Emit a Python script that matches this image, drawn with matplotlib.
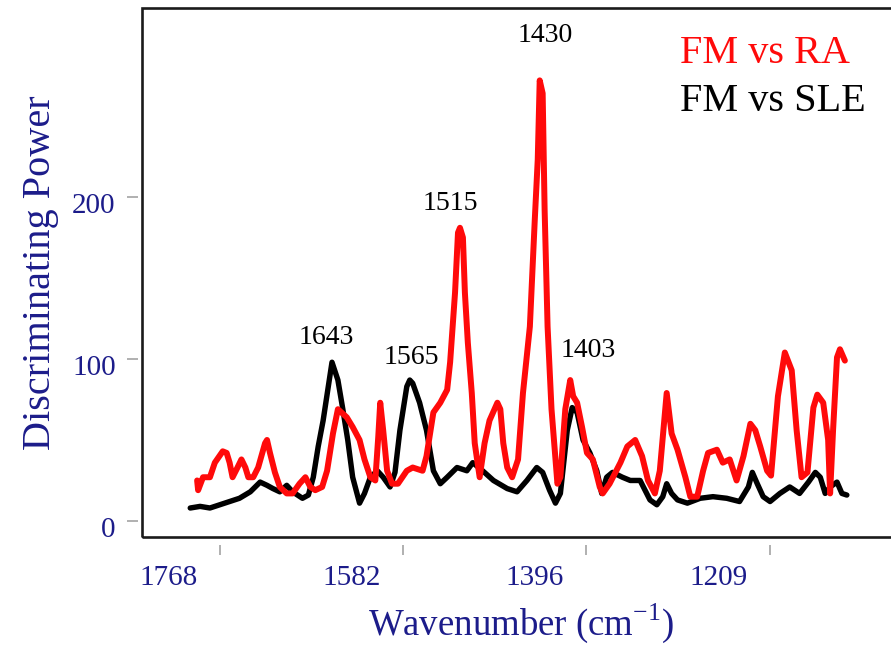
import matplotlib
matplotlib.use("Agg")
import matplotlib.pyplot as plt
from matplotlib.patches import Rectangle
from matplotlib.transforms import ScaledTranslation

plt.rcParams['font.family'] = ['Liberation Serif', 'DejaVu Serif']
plt.rcParams['mathtext.fontset'] = 'custom'
plt.rcParams['mathtext.rm'] = 'Liberation Serif'

# ---- data ----
ra_wn = [1791, 1790, 1785, 1778, 1773, 1765, 1761, 1758, 1755, 1750, 1746, 1742, 1739, 1734,
         1729, 1722, 1720, 1717, 1712, 1707, 1700, 1694, 1687, 1681, 1676, 1671, 1664, 1659,
         1653, 1648, 1639, 1633, 1626, 1621, 1615, 1610, 1607, 1605, 1602, 1598, 1593, 1587,
         1578, 1572, 1562, 1558, 1551, 1544, 1537, 1534, 1529, 1526, 1524, 1521, 1519, 1516,
         1512, 1509, 1504, 1499, 1494, 1486, 1483, 1480, 1476, 1471, 1465, 1460, 1453, 1448,
         1445, 1443, 1440, 1438, 1435, 1431, 1425, 1422, 1417, 1412, 1409, 1405, 1400, 1395,
         1389, 1382, 1379, 1372, 1361, 1354, 1346, 1339, 1333, 1326, 1321, 1314, 1309, 1303,
         1295, 1290, 1283, 1277, 1272, 1263, 1257, 1250, 1243, 1236, 1229, 1224, 1219, 1212,
         1208, 1201, 1194, 1187, 1182, 1177, 1171, 1165, 1161, 1155, 1150, 1148, 1145, 1141,
         1138, 1133]
ra_dp = [25, 19, 27, 27, 36, 43, 42, 36, 27, 33, 38, 33, 27, 27,
         33, 48, 50, 42, 30, 21, 17, 17, 23, 27, 21, 19, 21, 31,
         54, 69, 64, 58, 50, 38, 27, 25, 52, 73, 56, 31, 23, 23,
         31, 33, 31, 40, 67, 73, 81, 98, 141, 178, 181, 175, 141, 110,
         79, 48, 27, 48, 62, 73, 69, 48, 33, 27, 38, 79, 120, 186,
         223, 272, 264, 192, 120, 69, 23, 27, 69, 87, 77, 73, 58, 42,
         38, 21, 17, 23, 36, 46, 50, 40, 25, 17, 31, 79, 54, 44,
         27, 15, 15, 31, 42, 44, 36, 38, 25, 40, 60, 56, 46, 31,
         28, 77, 104, 93, 56, 27, 30, 70, 78, 73, 50, 17, 56, 101,
         106, 99]

sle_wn = [1798, 1788, 1778, 1768, 1758, 1748, 1737, 1727, 1720, 1714, 1707, 1700, 1694, 1684,
          1678, 1673, 1668, 1663, 1654, 1648, 1643, 1638, 1633, 1626, 1621, 1615, 1608, 1602,
          1595, 1590, 1585, 1578, 1575, 1572, 1565, 1558, 1551, 1544, 1537, 1527, 1517, 1511,
          1501, 1490, 1476, 1466, 1456, 1446, 1440, 1433, 1427, 1422, 1415, 1410, 1405, 1399,
          1392, 1385, 1380, 1375, 1369, 1359, 1351, 1341, 1331, 1324, 1318, 1314, 1309, 1303,
          1293, 1280, 1267, 1253, 1240, 1231, 1227, 1222, 1216, 1209, 1199, 1189, 1179, 1170,
          1163, 1158, 1153, 1148, 1141, 1136, 1131]
sle_dp = [8, 9, 8, 10, 12, 14, 18, 24, 22, 20, 18, 22, 18, 14,
          16, 27, 46, 62, 98, 87, 69, 50, 27, 11, 17, 27, 31, 27,
          21, 30, 56, 83, 87, 85, 73, 56, 31, 23, 27, 33, 31, 36,
          31, 25, 20, 18, 25, 33, 30, 19, 11, 17, 56, 70, 67, 50,
          42, 31, 17, 27, 30, 27, 25, 25, 13, 10, 15, 23, 17, 13,
          11, 14, 15, 14, 12, 21, 30, 23, 15, 12, 17, 21, 17, 24,
          30, 27, 17, 21, 24, 17, 16]

series_labels = ["FM vs RA", "FM vs SLE"]
peak_labels = ["1643", "1565", "1515", "1430", "1403"]
peak_label_wn = [1660, 1573, 1534, 1437, 1394]
peak_label_dp = [113, 101, 196, 300, 105]
xtick_vals = [1768, 1582, 1396, 1209]
ytick_vals = [0, 100, 200]

NAVY = '#1c1c8a'

fig = plt.figure(figsize=(8.91, 6.46), dpi=100)
ax = fig.add_axes([142/891, 1 - 537/646, (900 - 142)/891, (537 - 8)/646])

l_sle, = ax.plot(sle_wn, sle_dp, color='black', lw=3.9, solid_joinstyle='round',
                 solid_capstyle='round', label=series_labels[1], zorder=2)
l_ra, = ax.plot(ra_wn, ra_dp, color='#ff0a0a', lw=4.3, solid_joinstyle='round',
                solid_capstyle='round', label=series_labels[0], zorder=3)

ax.set_xlim(1847, 1077)
ax.set_ylim(-9.9, 316.7)

for s in ax.spines.values():
    s.set_visible(False)
ax.spines['left'].set_position(('outward', 3))
ax.spines['bottom'].set_position(('outward', 6))

ax.add_patch(Rectangle((0, 0), 1, 1, transform=ax.transAxes, fill=False,
                       edgecolor='#1a1a1a', lw=1.9, clip_on=False, zorder=5))

ax.set_xticks(xtick_vals)
ax.set_xticklabels([str(v) for v in xtick_vals])
ax.set_yticks(ytick_vals)
ax.set_yticklabels([str(v) for v in ytick_vals])
ax.tick_params(axis='x', direction='out', length=7, width=1.3, color='#aaaaaa',
               labelsize=21, labelcolor=NAVY, pad=7)
ax.tick_params(axis='y', direction='out', length=8, width=1.3, color='#aaaaaa',
               labelsize=21, labelcolor=NAVY, pad=8)
for lab in ax.get_xticklabels():
    lab.set_transform(lab.get_transform() + ScaledTranslation(-0.51, 0, fig.dpi_scale_trans))
for lab in ax.get_yticklabels():
    lab.set_transform(lab.get_transform() + ScaledTranslation(0, -0.06, fig.dpi_scale_trans))

ax.set_xlabel("Wavenumber (cm$^{-1}$)", fontsize=26.5, color=NAVY, labelpad=8)
ax.set_ylabel("Discriminating Power", fontsize=29, color=NAVY, labelpad=9)

for t, xw, yv in zip(peak_labels, peak_label_wn, peak_label_dp):
    ax.text(xw, yv, t, fontsize=20, color='black', ha='center', va='center')

leg = ax.legend(handles=[l_ra, l_sle], loc='upper left', bbox_to_anchor=(660/891, 1 - 15/646),
                bbox_transform=fig.transFigure, frameon=False, fontsize=29,
                handlelength=0, handletextpad=0, borderpad=0, labelspacing=0.25,
                labelcolor='linecolor')
for h in leg.legend_handles:
    h.set_visible(False)

fig.savefig("out.png", dpi=100)
